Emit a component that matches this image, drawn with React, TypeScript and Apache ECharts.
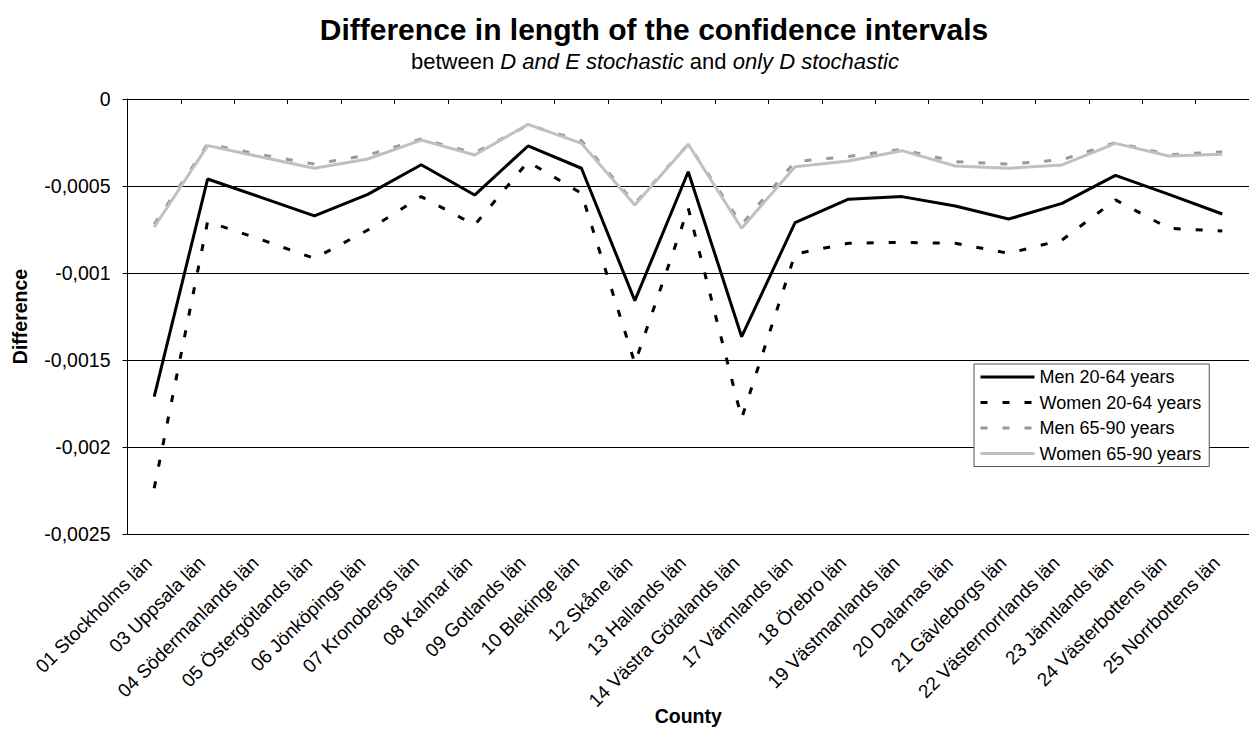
import React, { useEffect, useRef } from "react";
import * as echarts from "echarts";

const categories = [
  "01 Stockholms län", "03 Uppsala län", "04 Södermanlands län", "05 Östergötlands län",
  "06 Jönköpings län", "07 Kronobergs län", "08 Kalmar län", "09 Gotlands län",
  "10 Blekinge län", "12 Skåne län", "13 Hallands län", "14 Västra Götalands län",
  "17 Värmlands län", "18 Örebro län", "19 Västmanlands län", "20 Dalarnas län",
  "21 Gävleborgs län", "22 Västernorrlands län", "23 Jämtlands län", "24 Västerbottens län",
  "25 Norrbottens län",
];

const men2064 = [
  -0.00171, -0.00046, -0.000565, -0.000672, -0.000548, -0.000378, -0.000552, -0.00027,
  -0.000398, -0.001159, -0.000418, -0.001366, -0.000711, -0.000576, -0.000561, -0.000615,
  -0.00069, -0.0006, -0.000439, -0.000548, -0.000661,
];
const women2064 = [
  -0.002237, -0.000705, -0.000808, -0.000916, -0.000753, -0.000561, -0.000724, -0.00036,
  -0.000542, -0.001519, -0.000628, -0.001835, -0.000891, -0.000829, -0.000824, -0.000829,
  -0.000887, -0.00081, -0.00058, -0.000743, -0.000759,
];
const men6590 = [
  -0.00072, -0.000259, -0.00032, -0.000374, -0.000322, -0.00023, -0.00031, -0.00015,
  -0.00024, -0.0006, -0.00026, -0.00072, -0.00036, -0.00033, -0.00029, -0.00036,
  -0.000374, -0.000349, -0.00025, -0.00032, -0.000304,
];
const women6590 = [
  -0.000737, -0.000268, -0.000333, -0.000398, -0.000345, -0.000236, -0.000322, -0.000146,
  -0.000255, -0.000609, -0.00026, -0.000743, -0.000389, -0.000356, -0.000297, -0.000385,
  -0.000398, -0.000379, -0.000255, -0.000328, -0.000318,
];

const seriesNames = ["Men 20-64 years", "Women 20-64 years", "Men 65-90 years", "Women 65-90 years"];

const FONT = "'Liberation Sans', Arial, sans-serif";

export default function App() {
  const ref = useRef<HTMLDivElement>(null);
  useEffect(() => {
    if (!ref.current) return;
    const chart = echarts.init(ref.current, null, { renderer: "svg" });
    const mk = (name: string, data: number[], color: string, type: any) => ({
      name,
      type: "line",
      data,
      symbol: "none",
      showSymbol: false,
      lineStyle: { color, width: 3, type },
      itemStyle: { color },
      emphasis: { disabled: true },
    });
    chart.setOption({
      animation: false,
      backgroundColor: "#fff",
      textStyle: { fontFamily: FONT },
      title: [
        {
          text: "Difference in length of the confidence intervals",
          left: 649,
          textAlign: "center",
          top: 9,
          textStyle: { fontFamily: FONT, fontSize: 30, fontWeight: "bold", color: "#000" },
        },
        {
          text: "{n|between }{i|D and E stochastic}{n| and }{i|only D stochastic}",
          left: 650,
          textAlign: "center",
          top: 45,
          textStyle: {
            fontWeight: "normal",
            rich: {
              n: { fontFamily: FONT, fontSize: 22, color: "#000", fontWeight: "normal" },
              i: { fontFamily: FONT, fontSize: 22, color: "#000", fontStyle: "italic", fontWeight: "normal" },
            },
          },
        },
      ],
      legend: {
        orient: "vertical",
        left: 974,
        top: 364,
        data: seriesNames,
        itemWidth: 54,
        itemHeight: 14,
        itemGap: 7.5,
        padding: [4, 8, 4, 5],
        backgroundColor: "#fff",
        borderColor: "#555",
        borderWidth: 1,
        itemStyle: { opacity: 0 },
        lineStyle: { width: 3 },
        textStyle: { fontFamily: FONT, fontSize: 18, color: "#000" },
        selectedMode: false,
      },
      grid: {
        left: 127.5,
        right: 0,
        top: 99,
        bottom: 195,
        containLabel: false,
        outerBoundsMode: "none",
      },
      xAxis: {
        type: "category",
        data: categories,
        boundaryGap: true,
        name: "County",
        nameLocation: "middle",
        nameGap: 172,
        nameMoveOverlap: false,
        nameTextStyle: { fontFamily: FONT, fontSize: 19.5, fontWeight: "bold", color: "#000" },
        axisLine: { lineStyle: { color: "#000", width: 1 } },
        axisTick: { show: true, alignWithLabel: false, length: 5, lineStyle: { color: "#000" } },
        axisLabel: {
          interval: 0,
          rotate: 45,
          margin: 20,
          padding: [0, 8, 0, 0],
          fontFamily: FONT,
          fontSize: 19,
          color: "#000",
        },
        splitLine: { show: false },
      },
      yAxis: {
        type: "value",
        min: -0.0025,
        max: 0,
        interval: 0.0005,
        name: "Difference",
        nameLocation: "middle",
        nameGap: 98,
        nameRotate: 90,
        nameMoveOverlap: false,
        nameTextStyle: { fontFamily: FONT, fontSize: 19.5, fontWeight: "bold", color: "#000" },
        axisLine: { show: true, lineStyle: { color: "#000", width: 1 } },
        axisTick: { show: true, length: 5, lineStyle: { color: "#000" } },
        axisLabel: {
          margin: 17,
          fontFamily: FONT,
          fontSize: 19.5,
          color: "#000",
          formatter: (v: number) => (Math.abs(v) < 1e-12 ? "0" : String(+v.toFixed(4)).replace(".", ",")),
        },
        splitLine: { show: true, lineStyle: { color: "#000", width: 1 } },
      },
      series: [
        mk(seriesNames[0], men2064, "#000000", "solid"),
        mk(seriesNames[1], women2064, "#000000", [7, 15]),
        mk(seriesNames[2], men6590, "#999999", [7, 15]),
        mk(seriesNames[3], women6590, "#c0c0c0", "solid"),
      ],
    });
    return () => chart.dispose();
  }, []);
  return (
    <div
      ref={ref}
      style={{ position: "fixed", left: 0, top: 0, width: 1249, height: 729 }}
    />
  );
}
